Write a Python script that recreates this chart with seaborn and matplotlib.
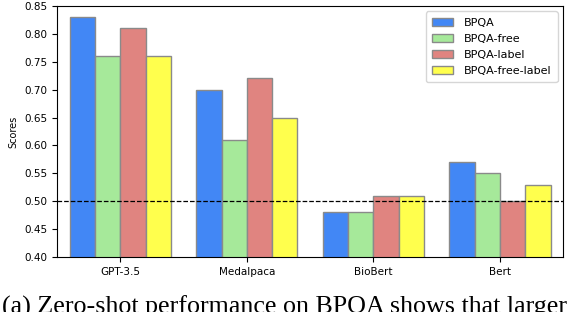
import matplotlib
matplotlib.use("Agg")
import matplotlib.pyplot as plt
import seaborn as sns
import pandas as pd

models = ["GPT-3.5", "Medalpaca", "BioBert", "Bert"]
series = ["BPQA", "BPQA-free", "BPQA-label", "BPQA-free-label"]
bpqa = [0.83, 0.70, 0.48, 0.57]
bpqa_free = [0.76, 0.61, 0.48, 0.55]
bpqa_label = [0.81, 0.72, 0.51, 0.50]
bpqa_free_label = [0.76, 0.65, 0.51, 0.53]
colors = ["#4287f5", "#a6e99a", "#e08480", "#ffff4d"]
yticks = [0.40, 0.45, 0.50, 0.55, 0.60, 0.65, 0.70, 0.75, 0.80, 0.85]
caption = "(a) Zero-shot performance on BPQA shows that larger"

rows = []
for name, vals in zip(series, [bpqa, bpqa_free, bpqa_label, bpqa_free_label]):
    for m, v in zip(models, vals):
        rows.append({"model": m, "series": name, "score": v})
df = pd.DataFrame(rows)

fig = plt.figure(figsize=(5.7, 3.12), dpi=100)
ax = fig.add_axes([0.1, 0.176, 0.888, 0.805])
sns.barplot(data=df, x="model", y="score", hue="series", order=models,
            hue_order=series, palette=colors, edgecolor="#8a8a8a",
            linewidth=1.0, saturation=1, ax=ax, width=0.8)
ax.axhline(0.5, color="black", linestyle="--", linewidth=0.9)
ax.set_ylim(0.40, 0.85)
ax.set_yticks(yticks)
ax.set_yticklabels([f"{t:.2f}" for t in yticks])
ax.set_xlabel("")
ax.set_ylabel("Scores", fontsize=7)
ax.tick_params(labelsize=7.5)
leg = ax.legend(loc="upper right", fontsize=8, handlelength=1.9,
                borderpad=0.55, labelspacing=0.55, handletextpad=1.0)

fig.text(0.003, -0.006, caption, fontsize=18.7, family="Liberation Serif",
         ha="left", va="baseline")

fig.savefig("out.png", dpi=100)
